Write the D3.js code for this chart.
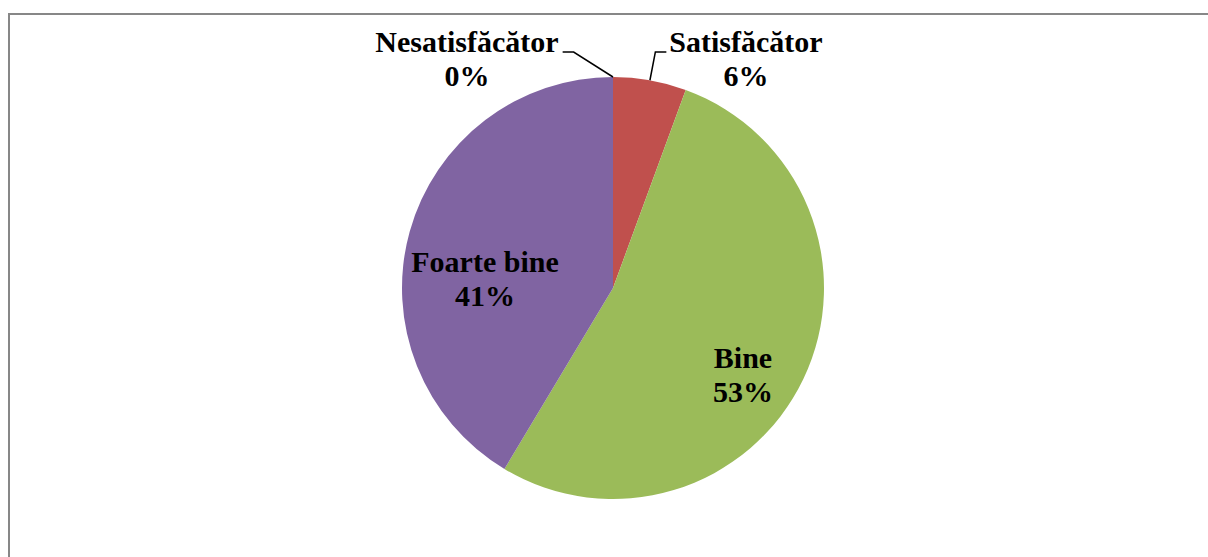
<!DOCTYPE html>
<html>
<head>
<meta charset="utf-8">
<script src="https://cdn.jsdelivr.net/npm/d3@7"></script>
<style>
  html, body { margin: 0; padding: 0; background: #fff; overflow: hidden; }
  text { font-family: "Liberation Serif", "Times New Roman", serif; font-weight: bold; }
</style>
</head>
<body>
<div class="d3-chart"></div>
<script>
// shares, in percent
const categories = ["Nesatisfăcător", "Satisfăcător", "Bine", "Foarte bine"];
const shares = [0, 5.6, 53.0, 41.4];
const colors = ["#4F81BD", "#C0504D", "#9BBB59", "#8064A2"];

const width = 1208, height = 557;
const cx = 613, cy = 288, radius = 211;

// where each label sits (center x, first baseline); side = gets a leader line
const labelPos = [
  {x: 467, y: 52, side: "left"},
  {x: 746, y: 52, side: "right"},
  {x: 743, y: 368},
  {x: 485, y: 272}
];
const lineGap = 34;

const svg = d3.select(".d3-chart")
  .append("svg")
  .attr("width", width)
  .attr("height", height);

// chart frame (only top and left edges show in the picture)
svg.append("path")
  .attr("d", `M9,${height} L9,14 L${width},14`)
  .attr("fill", "none")
  .attr("stroke", "#878787")
  .attr("stroke-width", 2);

const total = d3.sum(shares);
const data = categories.map((c, i) => ({name: c, value: shares[i], color: colors[i], pct: shares[i] / total}));

const pie = d3.pie()
  .sort(null)
  .value(d => d.value);

const arc = d3.arc()
  .innerRadius(0)
  .outerRadius(radius);

const g = svg.append("g")
  .attr("transform", `translate(${cx},${cy})`);

const arcs = pie(data);

g.selectAll("path")
  .data(arcs)
  .join("path")
  .attr("d", arc)
  .attr("fill", d => d.data.color);

const lineLayer = svg.append("g");

// labels
arcs.forEach((a, i) => {
  const lp = labelPos[i];
  const t = svg.append("text")
    .attr("transform", `translate(${lp.x},${lp.y})`)
    .attr("text-anchor", "middle")
    .attr("font-size", 30)
    .attr("fill", "#000");
  const first = t.append("tspan")
    .attr("x", 0)
    .attr("y", 0)
    .text(a.data.name);
  t.append("tspan")
    .attr("x", 0)
    .attr("y", lineGap)
    .text(Math.round(a.data.pct * 100) + "%");

  // leader lines for the small slices on top
  if (!lp.side) return;
  const half = first.node().getComputedTextLength() / 2;
  const mid = (a.startAngle + a.endAngle) / 2;
  const px = cx + radius * Math.sin(mid);
  const py = cy - radius * Math.cos(mid);
  let pts;
  if (lp.side === "left") {
    pts = [[lp.x + half + 4, lp.y], [lp.x + half + 15, lp.y], [px, py]];
  } else {
    pts = [[lp.x - half - 3, lp.y], [lp.x - half - 14, lp.y], [px, py]];
  }
  lineLayer.append("path")
    .attr("d", d3.line()(pts))
    .attr("fill", "none")
    .attr("stroke", "#000")
    .attr("stroke-width", 1.5);
});
</script>
</body>
</html>
